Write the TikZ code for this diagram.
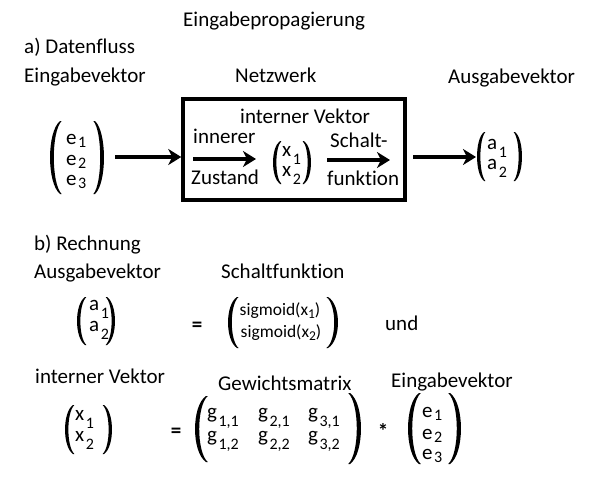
\documentclass[tikz,border=0pt]{standalone}
\usepackage{fontspec}
\setmainfont[Ligatures=NoCommon]{Carlito}
\usetikzlibrary{arrows.meta}
\newcommand\sbs[1]{\hspace{1.5pt}\raisebox{-8pt}{\fontsize{16}{16}\selectfont #1}}
\newcommand\sbe[1]{\hspace{1.5pt}\raisebox{-3pt}{\fontsize{16}{16}\selectfont #1}}
\newcommand\ssbs[1]{\raisebox{-3pt}{\fontsize{13.5}{13.5}\selectfont #1}}
% #1 tip x, #2 end x, #3 top y, #4 bottom y, #5 signed thickness
\newcommand\pth[5]{%
  \fill[parst] (#2,#3) .. controls ({#2+(#1-#2)*1.33},{#3+(#4-#3)*0.15}) and ({#2+(#1-#2)*1.33},{#4-(#4-#3)*0.15}) .. (#2,#4)
   -- ({#2+0.35*(#5)},#4) .. controls ({#2+(#1-#2)*1.33+(#5)},{#4-(#4-#3)*0.15}) and ({#2+(#1-#2)*1.33+(#5)},{#3+(#4-#3)*0.15}) .. ({#2+0.35*(#5)},#3) -- cycle;}
\begin{document}
\begin{tikzpicture}[x=1pt,y=-1pt,
  lbl/.style={anchor=base west,inner sep=0pt,font=\fontsize{21}{24}\selectfont},
  sml/.style={anchor=base,inner sep=0pt,font=\fontsize{17.5}{20}\selectfont},
  op/.style={anchor=base,inner sep=0pt,font=\fontsize{21}{24}\selectfont\bfseries},
  arr/.style={line width=3.5pt,-{Stealth[length=13pt,width=16pt,inset=4pt]}},
  boxst/.style={draw,line width=3.5pt,inner sep=0pt},
  parst/.style={black}]
\useasboundingbox (0,0) rectangle (593,487);
% ---------- a) ----------
\node[lbl] (title) at (183,27) {Eingabepropagierung};
\node[lbl] (sa) at (24,53) {a) Datenfluss};
\node[lbl] (ein1) at (24,82) {Eingabevektor};
\node[lbl] (netz) at (235,82) {Netzwerk};
\node[lbl] (aus1) at (448,83) {Ausgabevektor};
\node[boxst,minimum width=222pt,minimum height=101pt] (net) at (294,149.5) {};
% input vector
\pth{50}{60}{121}{194}{4.5}
\pth{104}{95}{121}{194}{-4.5}
\node[lbl] (e1) at (66,144) {e\sbe{1}};
\node[lbl] (e2) at (66,165) {e\sbe{2}};
\node[lbl] (e3) at (66,185) {e\sbe{3}};
\coordinate (a1s) at (115,157);
\coordinate (a1e) at (net.west);
\draw[arr] (a1s) -- (a1e |- a1s);
% inside box
\node[lbl] (iv) at (240,123) {interner Vektor};
\node[lbl] (inn) at (193,143) {innerer};
\node[lbl] (zus) at (191,184) {Zustand};
\coordinate (a2s) at (193,159);
\coordinate (a2e) at (256,159);
\draw[arr] (a2s) -- (a2e);
\pth{273}{280}{141}{184}{4}
\pth{311}{304}{141}{184}{-4}
\node[lbl] (x1) at (282,156) {x\sbs{1}};
\node[lbl] (x2) at (282,176) {x\sbs{2}};
\node[lbl] (sch) at (330,147) {Schalt-};
\node[lbl] (fun) at (327,185) {funktion};
\coordinate (a3s) at (327,160);
\coordinate (a3e) at (390,160);
\draw[arr] (a3s) -- (a3e);
\coordinate (a4s) at (413,157);
\coordinate (a4e) at (476,157);
\draw[arr] (a4s) -- (a4e);
\pth{477}{484}{132}{181}{4}
\pth{522}{515}{132}{181}{-4}
\node[lbl] (oa1) at (487,149) {a\sbs{1}};
\node[lbl] (oa2) at (487,169) {a\sbs{2}};
% ---------- b) ----------
\node[lbl] (sb) at (34,250) {b) Rechnung};
\node[lbl] (aus2) at (34,278) {Ausgabevektor};
\node[lbl] (sf) at (221,278) {Schaltfunktion};
\pth{77}{85}{297}{345}{4}
\pth{115}{107}{297}{345}{-4}
\node[lbl] (ba1) at (89,310) {a\sbs{1}};
\node[lbl] (ba2) at (89,331) {a\sbs{2}};
\node[op] (eq1) at (197,331) {=};
\pth{228}{237}{297}{348}{4.5}
\pth{338}{328}{297}{348}{-4.5}
\node[sml] (sg1) at (280,315) {sigmoid(x\ssbs{1})};
\node[sml] (sg2) at (281,337) {sigmoid(x\ssbs{2})};
\node[lbl] (und) at (385,330) {und};
\node[lbl] (iv2) at (35,383) {interner Vektor};
\node[lbl] (gm) at (218,390) {Gewichtsmatrix};
\node[lbl] (ein2) at (391,387) {Eingabevektor};
\pth{65}{73}{405}{454}{4}
\pth{112}{104}{405}{454}{-4}
\node[lbl] (bx1) at (75,420) {x\sbs{1}};
\node[lbl] (bx2) at (75,441) {x\sbs{2}};
\node[op] (eq2) at (176,437) {=};
\pth{195}{206}{396}{462}{5}
\pth{361}{350}{393}{464}{-5}
\node[lbl] (g11) at (207,418) {g\sbs{1,1}};
\node[lbl] (g21) at (258,418) {g\sbs{2,1}};
\node[lbl] (g31) at (308,418) {g\sbs{3,1}};
\node[lbl] (g12) at (207,441) {g\sbs{1,2}};
\node[lbl] (g22) at (258,441) {g\sbs{2,2}};
\node[lbl] (g32) at (308,441) {g\sbs{3,2}};
\node[op] (mul) at (383,438) {*};
\pth{408}{419}{393}{464}{5}
\pth{461}{450}{393}{464}{-5}
\node[lbl] (be1) at (422,417) {e\sbe{1}};
\node[lbl] (be2) at (422,439) {e\sbe{2}};
\node[lbl] (be3) at (422,459) {e\sbe{3}};
\end{tikzpicture}
\end{document}
